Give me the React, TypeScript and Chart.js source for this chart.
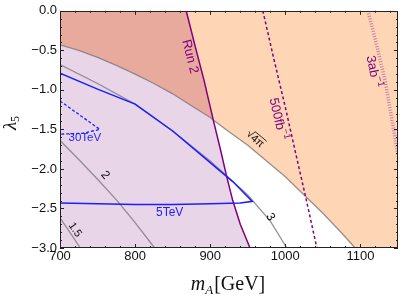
import { useEffect, useRef } from "react";
import { Chart, registerables } from "chart.js";

Chart.register(...registerables);

const X_MIN = 700;
const X_MAX = 1150;
const Y_MIN = -3;
const Y_MAX = 0;
const xTicks = [700, 800, 900, 1000, 1100];
const yTicks = [-3, -2.5, -2, -1.5, -1, -0.5, 0];

// sqrt(4 pi) contour
const sqrtX = [700, 725, 750, 775, 800, 825, 850, 875, 900, 904, 925, 950, 975, 1000, 1025, 1050, 1075, 1093];
const sqrtY = [-0.43, -0.5, -0.59, -0.69, -0.8, -0.92, -1.05, -1.2, -1.35, -1.38, -1.53, -1.7, -1.9, -2.1, -2.33, -2.56, -2.81, -3.0];
// Run 2 exclusion line
const run2X = [868, 880, 892, 904, 914, 922, 930, 940, 953];
const run2Y = [0, -0.45, -0.89, -1.38, -1.77, -2.1, -2.4, -2.7, -3.0];
const CROSS_X = 904;
// contours 3, 2, 1.5
const c3X = [700, 750, 800, 850, 900, 950, 980, 1002];
const c3Y = [-0.68, -0.92, -1.18, -1.52, -1.9, -2.33, -2.66, -3.0];
const c2X = [700, 725, 750, 776, 800, 826];
const c2Y = [-1.64, -1.88, -2.13, -2.4, -2.68, -3.0];
const c15X = [700, 713, 727];
const c15Y = [-2.62, -2.8, -3.0];
// 5 TeV contour (closed)
const b5X = [700, 750, 800, 850, 900, 930, 956, 940, 900, 850, 800, 750, 700];
const b5Y = [-0.79, -0.99, -1.18, -1.52, -1.92, -2.16, -2.41, -2.43, -2.44, -2.45, -2.45, -2.44, -2.43];
// 30 TeV contour
const b30X = [700, 753, 730, 700];
const b30Y = [-1.14, -1.5, -1.55, -1.56];
// 500 fb^-1 and 3 ab^-1 projections
const fbX = [970, 985, 1000, 1013, 1026, 1042];
const fbY = [0, -0.62, -1.22, -1.77, -2.31, -3.0];
const abX = [1110, 1122, 1133, 1141, 1149, 1154];
const abY = [0, -0.45, -0.89, -1.33, -1.77, -2.0];

const PURPLE = "#800080";
const BLUE = "#1e1eff";
const GRAY = "rgba(125,120,125,0.8)";
const RED = "rgb(231,170,157)";
const LAV = "rgb(232,213,232)";
const ORANGE = "rgb(254,214,181)";

type Lab = { text: string; x: number; y: number; angle: number; color: string; size: number; sup?: string; radical?: boolean };
const labels: Lab[] = [
  { text: "Run 2", x: 873, y: -0.58, angle: 76, color: PURPLE, size: 13 },
  { text: "500fb", sup: "−1", x: 990, y: -1.37, angle: 77, color: PURPLE, size: 13 },
  { text: "3ab", sup: "−1", x: 1117, y: -0.77, angle: 79, color: PURPLE, size: 13 },
  { text: "4π", radical: true, x: 960, y: -1.62, angle: 40, color: "#111", size: 11 },
  { text: "3", x: 980, y: -2.61, angle: 58, color: "#111", size: 12 },
  { text: "2", x: 760, y: -2.08, angle: 50, color: "#111", size: 12 },
  { text: "1.5", x: 720, y: -2.77, angle: 56, color: "#111", size: 11 },
  { text: "30TeV", x: 733, y: -1.61, angle: 0, color: BLUE, size: 11.5 },
  { text: "5TeV", x: 846, y: -2.55, angle: 0, color: BLUE, size: 12 },
];

const pts = (xs: number[], ys: number[]) => xs.map((x, i) => ({ x, y: ys[i] }));

const fmtY = (v: number) => (v < 0 ? "−" + Math.abs(v).toFixed(1) : v.toFixed(1));

const SANS = '"Liberation Sans", Arial, sans-serif';
const SERIF = '"Liberation Serif", "Times New Roman", serif';

const overlay = {
  id: "overlay",
  afterDatasetsDraw(chart: any) {
    const { ctx, scales } = chart;
    const xs = scales.x;
    const ys = scales.y;
    for (const l of labels) {
      ctx.save();
      ctx.translate(xs.getPixelForValue(l.x), ys.getPixelForValue(l.y));
      ctx.rotate((l.angle * Math.PI) / 180);
      ctx.fillStyle = l.color;
      ctx.strokeStyle = l.color;
      ctx.textBaseline = "middle";
      ctx.font = `${l.size}px ${SANS}`;
      if (l.radical) {
        const rw = ctx.measureText("√").width;
        const tw = ctx.measureText(l.text).width;
        const total = rw + tw;
        ctx.textAlign = "left";
        ctx.fillText("√", -total / 2, 0);
        ctx.fillText(l.text, -total / 2 + rw, 0.5);
        ctx.lineWidth = 0.8;
        ctx.beginPath();
        ctx.moveTo(-total / 2 + rw - 0.5, -l.size * 0.5);
        ctx.lineTo(total / 2 + 0.5, -l.size * 0.5);
        ctx.stroke();
      } else if (l.sup) {
        const mw = ctx.measureText(l.text).width;
        ctx.font = `${l.size * 0.72}px ${SANS}`;
        const sw = ctx.measureText(l.sup).width;
        const total = mw + sw;
        ctx.textAlign = "left";
        ctx.font = `${l.size}px ${SANS}`;
        ctx.fillText(l.text, -total / 2, 0);
        ctx.font = `${l.size * 0.72}px ${SANS}`;
        ctx.fillText(l.sup, -total / 2 + mw, -l.size * 0.38);
      } else {
        ctx.textAlign = "center";
        ctx.fillText(l.text, 0, 0);
      }
      ctx.restore();
    }
  },
  afterDraw(chart: any) {
    const { ctx, chartArea: a, scales } = chart;
    const xs = scales.x;
    const ys = scales.y;
    ctx.save();
    ctx.strokeStyle = "#222";
    ctx.lineWidth = 1;
    ctx.strokeRect(Math.round(a.left) + 0.5, Math.round(a.top) + 0.5, Math.round(a.right - a.left) - 1, Math.round(a.bottom - a.top) - 1);
    ctx.beginPath();
    for (let v = X_MIN; v <= X_MAX + 0.001; v += 20) {
      const px = Math.round(xs.getPixelForValue(v)) + 0.5;
      const len = xTicks.includes(Math.round(v)) ? 4 : 2;
      ctx.moveTo(px, a.bottom);
      ctx.lineTo(px, a.bottom - len);
      ctx.moveTo(px, a.top);
      ctx.lineTo(px, a.top + len);
    }
    for (let k = 0; k <= 30; k++) {
      const v = Y_MIN + k * 0.1;
      const py = Math.round(ys.getPixelForValue(v)) + 0.5;
      const len = k % 5 === 0 ? 4 : 2;
      ctx.moveTo(a.left, py);
      ctx.lineTo(a.left + len, py);
      ctx.moveTo(a.right, py);
      ctx.lineTo(a.right - len, py);
    }
    ctx.stroke();

    // x title: m_A[GeV]
    ctx.fillStyle = "#111";
    ctx.textBaseline = "alphabetic";
    ctx.textAlign = "left";
    const big = 20;
    const sub = 13;
    ctx.font = `italic ${big}px ${SERIF}`;
    const mw = ctx.measureText("m").width;
    ctx.font = `italic ${sub}px ${SERIF}`;
    const aw = ctx.measureText("A").width;
    ctx.font = `${big}px ${SERIF}`;
    const gw = ctx.measureText("[GeV]").width;
    const total = mw + aw + gw + 1;
    let sx = 228 - total / 2;
    const by = 290;
    ctx.font = `italic ${big}px ${SERIF}`;
    ctx.fillText("m", sx, by);
    sx += mw;
    ctx.font = `italic ${sub}px ${SERIF}`;
    ctx.fillText("A", sx, by + 4);
    sx += aw + 1;
    ctx.font = `${big}px ${SERIF}`;
    ctx.fillText("[GeV]", sx, by);

    // y title: lambda_5
    ctx.save();
    ctx.translate(16, 123);
    ctx.rotate(-Math.PI / 2);
    ctx.font = `italic 19px ${SERIF}`;
    const lw = ctx.measureText("λ").width;
    ctx.font = `12px ${SERIF}`;
    const fw = ctx.measureText("5").width;
    const t2 = lw + fw;
    ctx.font = `italic 19px ${SERIF}`;
    ctx.fillText("λ", -t2 / 2, 0);
    ctx.font = `12px ${SERIF}`;
    ctx.fillText("5", -t2 / 2 + lw, 3);
    ctx.restore();
    ctx.restore();
  },
};

export default function App() {
  const ref = useRef<HTMLCanvasElement | null>(null);
  useEffect(() => {
    if (!ref.current) return;
    const sqrtPts = pts(sqrtX, sqrtY);
    const run2Pts = pts(run2X, run2Y);
    const redRegion = [{ x: X_MIN, y: Y_MAX }, ...run2Pts];
    const lavRegion = [...sqrtPts.filter((p) => p.x <= CROSS_X), ...run2Pts.filter((p) => p.x > CROSS_X)];
    const orangeRegion = [
      ...run2Pts.filter((p) => p.x <= CROSS_X),
      ...sqrtPts.filter((p) => p.x > CROSS_X),
      { x: X_MAX, y: Y_MIN },
    ];
    const region = (data: any, fill: string, color: string, order: number) => ({
      data,
      fill,
      backgroundColor: color,
      borderColor: "rgba(0,0,0,0)",
      borderWidth: 0,
      pointRadius: 0,
      order,
    });
    const line = (data: any, color: string, width: number, order: number, dash: number[] = []) => ({
      data,
      fill: false,
      borderColor: color,
      borderWidth: width,
      borderDash: dash,
      pointRadius: 0,
      tension: 0,
      order,
    });
    const chart = new Chart(ref.current, {
      type: "line",
      data: {
        datasets: [
          region(redRegion, "start", RED, 20),
          region(lavRegion, "start", LAV, 19),
          region(orangeRegion, "end", ORANGE, 18),
          line(sqrtPts, GRAY, 1.3, 9),
          line(pts(c3X, c3Y), GRAY, 1.3, 9),
          line(pts(c2X, c2Y), GRAY, 1.3, 9),
          line(pts(c15X, c15Y), GRAY, 1.3, 9),
          line(run2Pts, PURPLE, 1.5, 5),
          line(pts(fbX, fbY), PURPLE, 1.5, 5, [3, 2.5]),
          line(pts(abX, abY), "rgba(150,40,150,0.5)", 3.5, 5, [1, 1.6]),
          line(pts(b5X, b5Y), BLUE, 1.5, 2),
          line(pts(b30X, b30Y), BLUE, 1.3, 2, [3, 2]),
        ] as any,
      },
      options: {
        animation: false,
        responsive: false,
        maintainAspectRatio: false,
        layout: { padding: { left: 0, right: 4, top: 9, bottom: 0 } },
        plugins: { legend: { display: false }, tooltip: { enabled: false } },
        scales: {
          x: {
            type: "linear",
            min: X_MIN,
            max: X_MAX,
            grid: { display: false, drawTicks: false },
            border: { display: false },
            ticks: { font: { family: SANS, size: 13 }, color: "#111", padding: 1, maxRotation: 0, callback: (v: any) => String(v) },
            afterBuildTicks: (s: any) => {
              s.ticks = xTicks.map((v) => ({ value: v }));
            },
            afterFit: (s: any) => {
              s.height = 49;
            },
          },
          y: {
            type: "linear",
            min: Y_MIN,
            max: Y_MAX,
            grid: { display: false, drawTicks: false },
            border: { display: false },
            ticks: { font: { family: SANS, size: 13 }, color: "#111", padding: 3, callback: (v: any) => fmtY(Number(v)) },
            afterBuildTicks: (s: any) => {
              s.ticks = yTicks.map((v) => ({ value: v }));
            },
            afterFit: (s: any) => {
              s.width = 60;
            },
          },
        },
      },
      plugins: [overlay],
    });
    return () => chart.destroy();
  }, []);
  return (
    <div style={{ position: "absolute", left: 0, top: 0, width: 402, height: 297, background: "#fff" }}>
      <canvas ref={ref} width={402} height={297} style={{ width: 402, height: 297, display: "block" }} />
    </div>
  );
}
